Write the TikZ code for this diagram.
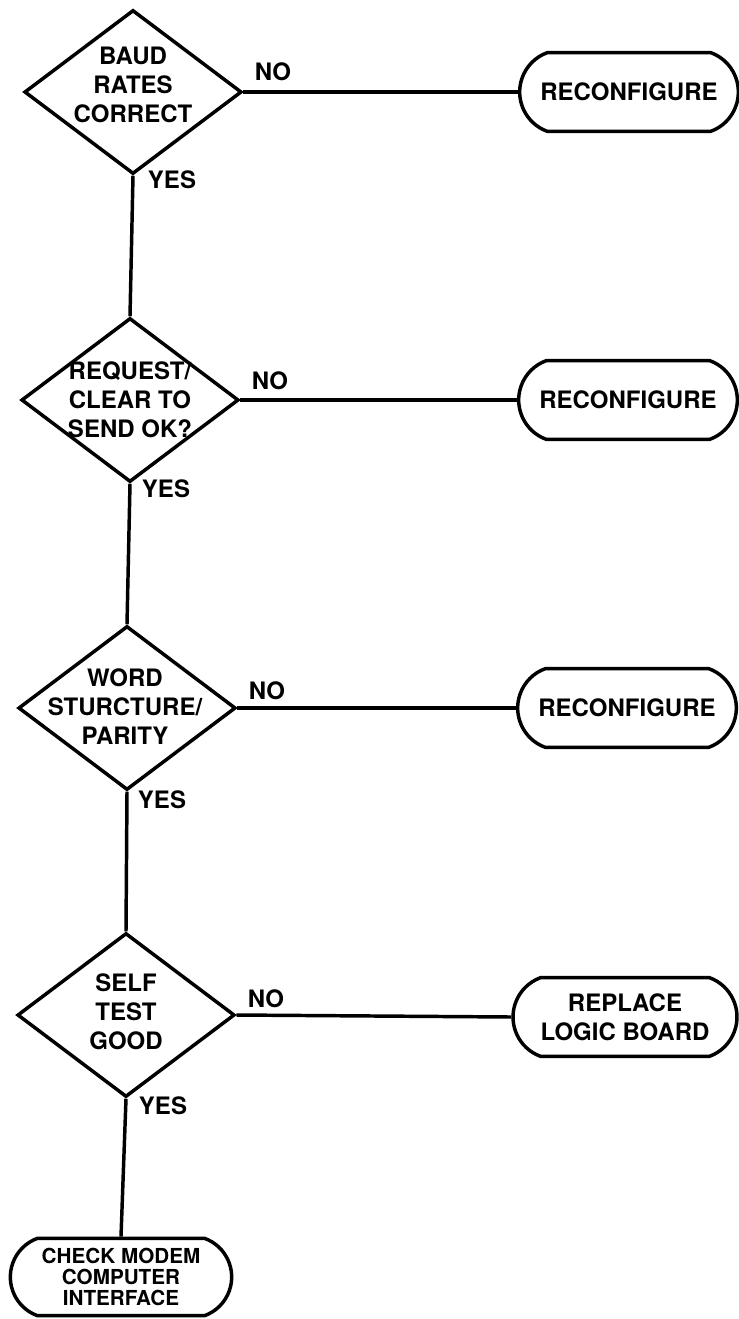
\documentclass[tikz,border=0pt]{standalone}
\usepackage{fontspec}
\setmainfont{TeX Gyre Heros}
\usetikzlibrary{shapes.geometric,shapes.misc}
\begin{document}
\begin{tikzpicture}[x=0.75pt,y=-0.75pt,
  flow/.style={line width=2.6pt},
  decision/.style={diamond, draw, line width=2.6pt, inner sep=0pt,
    minimum width=163pt, minimum height=123pt},
  terminal/.style={rounded rectangle, rounded rectangle arc length=140,
    draw, line width=2.6pt, inner sep=0pt,
    minimum width=164pt, minimum height=59pt},
  big/.style={font=\fontsize{18}{21.75}\selectfont\bfseries, align=center, inner sep=0pt},
  small/.style={font=\fontsize{15.5}{16}\selectfont\bfseries, align=center, inner sep=0pt},
  tag/.style={font=\fontsize{18}{21.75}\selectfont\bfseries, inner sep=0pt}
]
\useasboundingbox (0,0) rectangle (738,1319);

% decisions
\node[decision] (d1) at (133,92) {};
\node[decision] (d2) at (130,400) {};
\node[decision] (d3) at (127,708) {};
\node[decision] (d4) at (126,1015) {};

\node[big] (t1) at (133,85) {BAUD\\RATES\\CORRECT};
\node[big] (t2) at (130,400) {REQUEST/\\CLEAR TO\\SEND OK?};
\node[big] (t3) at (125,707) {WORD\\STURCTURE/\\PARITY};
\node[big] (t4) at (126,1012) {SELF\\TEST\\GOOD};

% outcomes
\node[terminal, big] (r1) at (629,92) {RECONFIGURE};
\node[terminal, big] (r2) at (628,400) {RECONFIGURE};
\node[terminal, big] (r3) at (627,708) {RECONFIGURE};
\node[terminal, big, minimum width=168pt] (r4) at (625,1017) {REPLACE\\LOGIC BOARD};
\node[terminal, small, minimum width=166pt, minimum height=58pt] (cm) at (121,1277)
  {CHECK MODEM\\COMPUTER\\INTERFACE};

% connectors
\draw[flow] (d1.east) -- (r1.west);
\draw[flow] (d2.east) -- (r2.west);
\draw[flow] (d3.east) -- (r3.west);
\draw[flow] (d4.east) -- (r4.west);
\draw[flow] (d1.south) -- (d2.north);
\draw[flow] (d2.south) -- (d3.north);
\draw[flow] (d3.south) -- (d4.north);
\draw[flow] (d4.south) -- (cm.north);

% branch labels
\node[tag] (n1) at (273,72) {NO};
\node[tag] (n2) at (270,381) {NO};
\node[tag] (n3) at (267,691) {NO};
\node[tag] (n4) at (266,999) {NO};
\node[tag] (y1) at (172,180) {YES};
\node[tag] (y2) at (166,489) {YES};
\node[tag] (y3) at (162,800) {YES};
\node[tag] (y4) at (163,1106) {YES};
\end{tikzpicture}
\end{document}
